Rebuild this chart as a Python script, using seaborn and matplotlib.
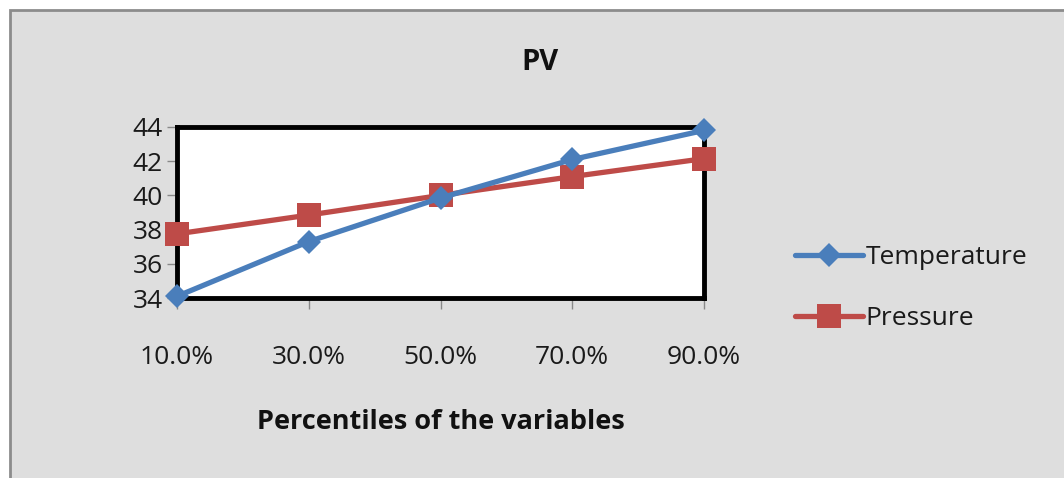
import matplotlib
matplotlib.use("Agg")
import matplotlib.pyplot as plt
import seaborn as sns
import pandas as pd
from matplotlib.patches import Rectangle

categories = ["10.0%", "30.0%", "50.0%", "70.0%", "90.0%"]
temperature = [34.1, 37.3, 39.85, 42.1, 43.8]
pressure = [37.75, 38.85, 40.0, 41.1, 42.15]
y_ticks = [34, 36, 38, 40, 42, 44]

sns.set_theme(style="white")
plt.rcParams['font.family'] = ['Open Sans', 'DejaVu Sans']

df = pd.DataFrame({
    "pos": list(range(len(categories))) * 2,
    "value": temperature + pressure,
    "series": ["Temperature"] * len(categories) + ["Pressure"] * len(categories),
})

fig = plt.figure(figsize=(10.64, 4.78), dpi=100)
fig.patch.set_facecolor("white")
bg = Rectangle((10 / 1064, -0.05), 1.1, 1 - 10 / 478 + 0.05, transform=fig.transFigure,
               facecolor="#DEDEDE", edgecolor="#8C8C8C", linewidth=2, zorder=-10)
fig.patches.append(bg)

ax = fig.add_axes([177 / 1064, 1 - 298 / 478, (704 - 177) / 1064, (298 - 127) / 478])
ax.set_facecolor("white")

palette = {"Temperature": "#4A7EBB", "Pressure": "#BE4B48"}
markers = {"Temperature": "D", "Pressure": "s"}
sizes = {"Temperature": 12.5, "Pressure": 17}

for name in ["Pressure", "Temperature"]:
    sub = df[df.series == name]
    sns.lineplot(data=sub, x="pos", y="value", ax=ax, color=palette[name], marker=markers[name],
                 markersize=sizes[name], markeredgewidth=0, linewidth=3.8, label=name,
                 clip_on=False, zorder=3)

ax.set_xlim(0, len(categories) - 1)
ax.set_ylim(34, 44)
ax.set_yticks(y_ticks)
ax.set_yticklabels([str(t) for t in y_ticks], fontsize=19, color="#1a1a1a")
ax.set_xticks(range(len(categories)))
ax.set_xticklabels(categories, fontsize=19, color="#1a1a1a")
ax.tick_params(axis="x", direction="out", length=8, width=1, color="#888888", pad=26, bottom=True)
ax.tick_params(axis="y", direction="out", length=7, width=1, color="#888888", pad=3, left=True)
for s in ax.spines.values():
    s.set_linewidth(3.5)
    s.set_color("black")

ax.set_xlabel("Percentiles of the variables", fontsize=19.5, fontweight="bold", labelpad=28,
              color="#111111")
ax.set_ylabel("")
fig.text(540 / 1064, 1 - 63 / 478, "PV", fontsize=21, fontweight="bold", ha="center", va="center",
         color="#111111")

ax.get_legend().remove()
h, l = ax.get_legend_handles_labels()
order = [l.index("Temperature"), l.index("Pressure")]
leg = fig.legend([h[i] for i in order], [l[i] for i in order], loc="center left",
                 bbox_to_anchor=(784 / 1064, 1 - 288 / 478), frameon=False, fontsize=19,
                 handlelength=2.6, handletextpad=0.1, labelspacing=1.36, borderaxespad=0)
for t in leg.get_texts():
    t.set_color("#1a1a1a")

fig.savefig("out.png", dpi=100)
